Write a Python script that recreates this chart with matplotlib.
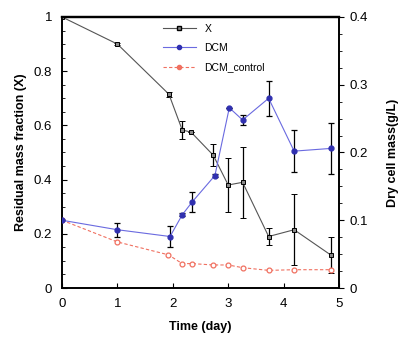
import matplotlib.pyplot as plt
from matplotlib.ticker import MultipleLocator, FuncFormatter
from matplotlib.lines import Line2D

plt.rcParams['font.family'] = ['Liberation Sans', 'DejaVu Sans']

# residual mass fraction (left axis)
t_x = [0, 1, 1.93, 2.17, 2.33, 2.73, 3.0, 3.26, 3.73, 4.19, 4.85]
x_frac = [1.0, 0.9, 0.715, 0.583, 0.575, 0.49, 0.38, 0.39, 0.19, 0.215, 0.122]
x_err = [0, 0.005, 0.01, 0.035, 0, 0.04, 0.1, 0.13, 0.03, 0.13, 0.065]

# dry cell mass (right axis)
t_dcm = [0, 1, 1.95, 2.17, 2.35, 2.76, 3.02, 3.26, 3.73, 4.19, 4.85]
dcm = [0.1, 0.086, 0.076, 0.108, 0.127, 0.166, 0.266, 0.248, 0.28, 0.202, 0.206]
dcm_err = [0, 0.01, 0.015, 0.002, 0.015, 0.002, 0, 0.008, 0.026, 0.031, 0.038]

t_ctrl = [0, 1, 1.92, 2.17, 2.35, 2.73, 3.0, 3.26, 3.73, 4.19, 4.85]
dcm_ctrl = [0.1, 0.068, 0.049, 0.036, 0.036, 0.034, 0.034, 0.03, 0.026, 0.027, 0.027]

fig = plt.figure(figsize=(4, 3.37), dpi=100)
ax = fig.add_axes([0.155, 0.1454, 0.6925, 0.8042])
ax2 = ax.twinx()

ax.errorbar(t_x, x_frac, yerr=x_err, color='#555555', lw=0.8, ecolor='black',
            elinewidth=0.9, capsize=2.5, capthick=0.9, marker='s', ms=3.5,
            mfc='#888888', mec='black', mew=0.7, zorder=3)
ax2.errorbar(t_dcm, dcm, yerr=dcm_err, color='#6a6ae0', lw=0.8, ecolor='black',
             elinewidth=0.9, capsize=2.5, capthick=0.9, marker='o', ms=3.5,
             mfc='#3030b0', mec='#3030b0', zorder=3)
ax2.plot(t_ctrl, dcm_ctrl, color='#f07060', lw=0.8, ls=(0, (3, 2)), marker='o',
         ms=3.5, mfc='white', mec='#f07060', mew=0.9)

ax.set_xlim(0, 5)
ax.set_ylim(0, 1)
ax2.set_ylim(0, 0.4)
fmt = FuncFormatter(lambda v, _: f'{v:g}')
ax.xaxis.set_major_locator(MultipleLocator(1))
ax.yaxis.set_major_locator(MultipleLocator(0.2))
ax.yaxis.set_minor_locator(MultipleLocator(0.05))
ax2.yaxis.set_major_locator(MultipleLocator(0.1))
ax2.yaxis.set_minor_locator(MultipleLocator(0.025))
ax.yaxis.set_major_formatter(fmt)
ax2.yaxis.set_major_formatter(fmt)

ax.tick_params(axis='both', which='both', direction='in', labelsize=9.5, pad=7)
ax.tick_params(axis='y', which='minor', length=2)
ax2.tick_params(axis='y', which='both', direction='out', labelsize=9.5, pad=4)
ax2.tick_params(axis='y', which='minor', length=2)
for s in ['left', 'bottom', 'right']:
    ax.spines[s].set_linewidth(1.2)
    ax2.spines[s].set_linewidth(1.2)
ax.spines['top'].set_linewidth(1.6)
ax2.spines['top'].set_linewidth(1.6)

ax.set_xlabel('Time (day)', fontsize=9, fontweight='bold', labelpad=8)
ax.set_ylabel('Residual mass fraction (X)', fontsize=9, fontweight='bold', labelpad=5)
ax2.set_ylabel('Dry cell mass(g/L)', fontsize=9, fontweight='bold', rotation=90, labelpad=14)

handles = [
    Line2D([], [], color='#555555', lw=0.8, marker='s', ms=3, mfc='#888888', mec='black'),
    Line2D([], [], color='#6a6ae0', lw=0.8, marker='o', ms=3, mfc='#3030b0', mec='#3030b0'),
    Line2D([], [], color='#f07060', lw=0.8, ls=(0, (3, 2)), marker='o', ms=3, mfc='#f07060', mec='#f07060'),
]
ax2.legend(handles, ['X', 'DCM', 'DCM_control'], loc='upper left',
           bbox_to_anchor=(0.33, 1.01), frameon=False, fontsize=7.5,
           handlelength=3.2, labelspacing=0.9)

fig.savefig('out.png', dpi=100)
